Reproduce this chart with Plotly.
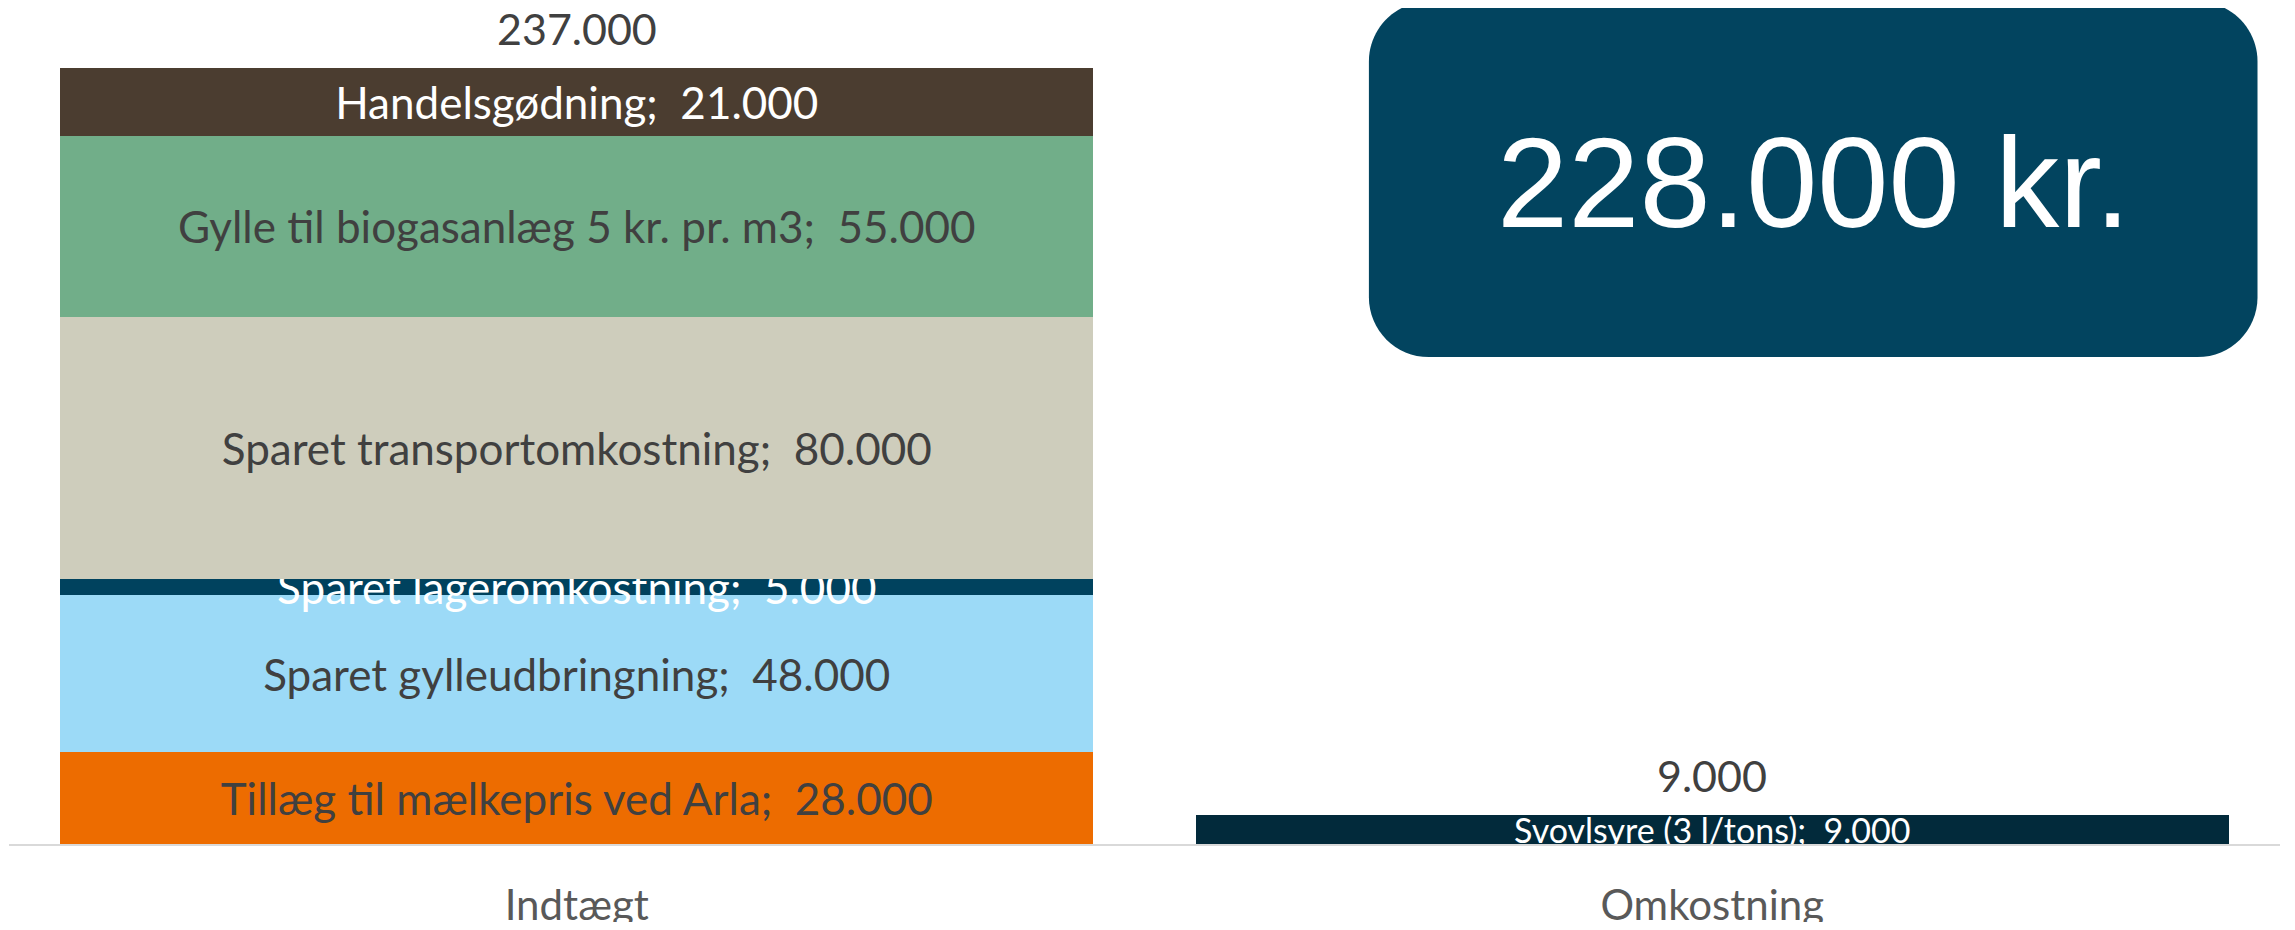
import plotly.graph_objects as go

# ---- data ----
categories = ["Indtægt", "Omkostning"]

income_names = [
    "Tillæg til mælkepris ved Arla",
    "Sparet gylleudbringning",
    "Sparet lageromkostning",
    "Sparet transportomkostning",
    "Gylle til biogasanlæg 5 kr. pr. m3",
    "Handelsgødning",
]
income_values = [28000, 48000, 5000, 80000, 55000, 21000]
income_colors = ["#ED6C00", "#9CDAF7", "#00425E", "#CECDBC", "#71AE89", "#4B3D30"]
income_text_colors = ["#404040", "#404040", "#FFFFFF", "#404040", "#404040", "#FFFFFF"]

cost_names = ["Svovlsyre (3 l/tons)"]
cost_values = [9000]
cost_colors = ["#022A3B"]
cost_text_colors = ["#FFFFFF"]

unit_label = "kr."


def fmt(v):
    return f"{v:,.0f}".replace(",", ".")


# page body has an 8px margin; figure sized to fit inside the window
OFF = 8
W, H = 2279, 914
# plot area in screen pixels: x 8.5..2280.5, y 24.5..844.5
ml = 8.5 - OFF
mt = 24.5 - OFF
mr = W - (2280.5 - OFF)
mb = H - (844.5 - OFF)
pw, ph = W - ml - mr, H - mt - mb

fig = go.Figure()

for name, v, c, tc in zip(income_names, income_values, income_colors, income_text_colors):
    fig.add_trace(go.Bar(
        x=[categories[0]], y=[v], name=name,
        marker=dict(color=c, line=dict(width=0)),
        text=[f"{name};\u00a0 {fmt(v)}"],
        textposition="inside", insidetextanchor="middle",
        textangle=0, constraintext="none",
        insidetextfont=dict(family="Lato", size=44, color=tc),
        hoverinfo="skip",
    ))

for name, v, c, tc in zip(cost_names, cost_values, cost_colors, cost_text_colors):
    fig.add_trace(go.Bar(
        x=[categories[1]], y=[v], name=name,
        marker=dict(color=c, line=dict(width=0)),
        text=[f"{name};\u00a0 {fmt(v)}"],
        textposition="inside", insidetextanchor="middle",
        textangle=0, constraintext="none",
        insidetextfont=dict(family="Lato", size=34, color=tc),
        hoverinfo="skip",
    ))

totals = [sum(income_values), sum(cost_values)]
for cat, t in zip(categories, totals):
    fig.add_annotation(
        x=cat, y=t, xref="x", yref="y", text=fmt(t), showarrow=False,
        yanchor="bottom", yshift=12,
        font=dict(family="Lato", size=43, color="#404040"),
    )

# rounded box with net result (screen pixel coordinates)
bx0, bx1, by0, by1, r = 1369, 2258, 1, 357, 60


def px(x):
    return (x - OFF - ml) / pw


def py(y):
    return (H - mb - (y - OFF)) / ph


k = 0.5523 * r
path = (
    f"M {px(bx0 + r)},{py(by0)} L {px(bx1 - r)},{py(by0)} "
    f"C {px(bx1 - r + k)},{py(by0)} {px(bx1)},{py(by0 + r - k)} {px(bx1)},{py(by0 + r)} "
    f"L {px(bx1)},{py(by1 - r)} "
    f"C {px(bx1)},{py(by1 - r + k)} {px(bx1 - r + k)},{py(by1)} {px(bx1 - r)},{py(by1)} "
    f"L {px(bx0 + r)},{py(by1)} "
    f"C {px(bx0 + r - k)},{py(by1)} {px(bx0)},{py(by1 - r + k)} {px(bx0)},{py(by1 - r)} "
    f"L {px(bx0)},{py(by0 + r)} "
    f"C {px(bx0)},{py(by0 + r - k)} {px(bx0 + r - k)},{py(by0)} {px(bx0 + r)},{py(by0)} Z"
)
fig.add_shape(type="path", xref="paper", yref="paper", path=path,
              fillcolor="#02445F", line=dict(width=0), layer="above")

net = totals[0] - totals[1]
fig.add_annotation(
    x=px((bx0 + bx1) / 2), y=py(182), xref="paper", yref="paper",
    text=f"{fmt(net)} {unit_label}", showarrow=False,
    xanchor="center", yanchor="middle",
    font=dict(family="Liberation Sans, Arial", size=128, color="#FFFFFF"),
)

fig.update_layout(
    width=W, height=H,
    margin=dict(l=ml, r=mr, t=mt, b=mb, autoexpand=False),
    barmode="stack", bargap=0.09,
    showlegend=False,
    plot_bgcolor="#FFFFFF", paper_bgcolor="#FFFFFF",
    xaxis=dict(
        showline=True, linecolor="#D9D9D9", linewidth=2,
        ticks="", ticklabelstandoff=24, automargin=False,
        tickfont=dict(family="Lato", size=42, color="#595959"),
        showgrid=False, zeroline=False,
    ),
    yaxis=dict(
        range=[0, 250000], visible=False, showgrid=False, zeroline=False,
        automargin=False,
    ),
)

fig.write_html("out.html")
